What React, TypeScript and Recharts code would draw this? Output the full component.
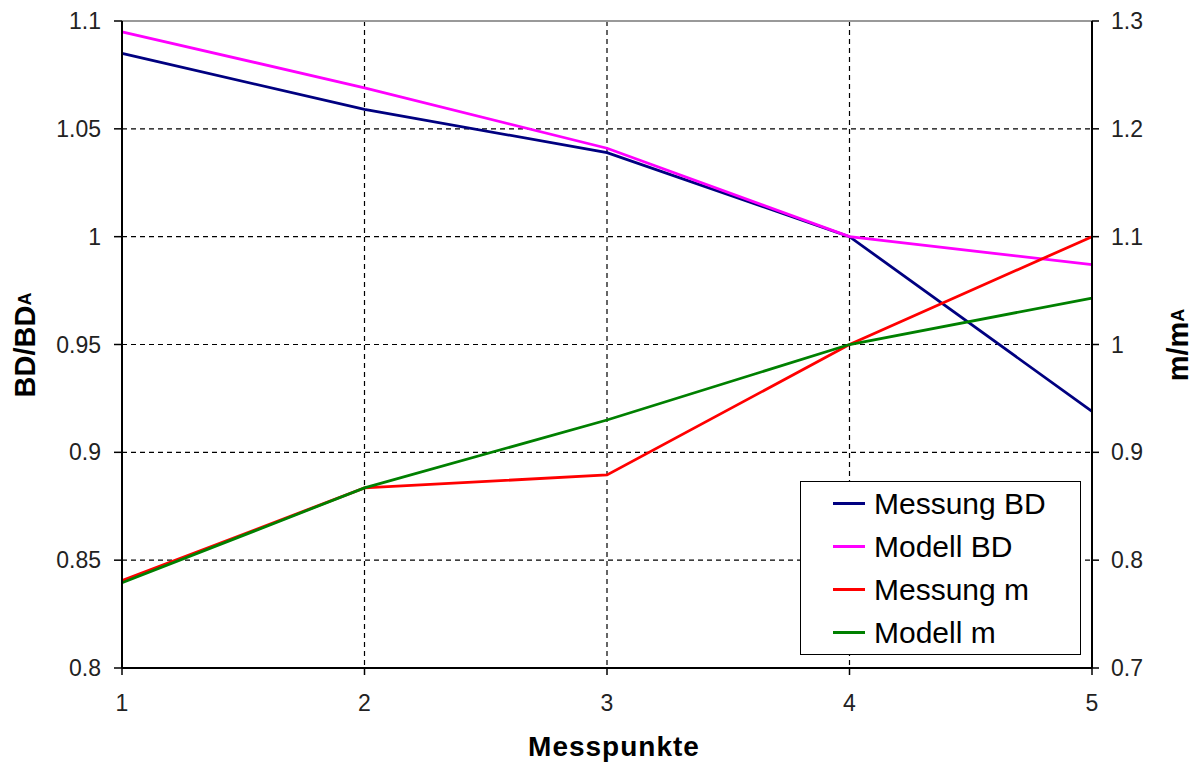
import { LineChart, Line, XAxis, YAxis, CartesianGrid, Legend, ReferenceLine } from 'recharts';

const messpunkte = [1, 2, 3, 4, 5];
const messungBD = [1.085, 1.059, 1.039, 1.0, 0.919];
const modellBD = [1.095, 1.069, 1.041, 1.0, 0.987];
const messungM = [0.781, 0.867, 0.879, 1.0, 1.1];
const modellM = [0.779, 0.867, 0.93, 1.0, 1.043];

const leftTicks = [0.8, 0.85, 0.9, 0.95, 1, 1.05, 1.1];
const rightTicks = [0.7, 0.8, 0.9, 1, 1.1, 1.2, 1.3];

const series = [
  { key: 'messungBD', name: 'Messung BD', color: '#000080', axis: 'left' },
  { key: 'modellBD', name: 'Modell BD', color: '#FF00FF', axis: 'left' },
  { key: 'messungM', name: 'Messung m', color: '#FF0000', axis: 'right' },
  { key: 'modellM', name: 'Modell m', color: '#008000', axis: 'right' },
];

const data = messpunkte.map((x, i) => ({
  x,
  messungBD: messungBD[i],
  modellBD: modellBD[i],
  messungM: messungM[i],
  modellM: modellM[i],
}));

const FONT = '"Liberation Sans", Arial, sans-serif';
const tickStyle = { fontSize: 23, fill: '#222', fontFamily: FONT };

// rotated axis title with a small "A" index
const AxisTitle = (x: number, y: number, main: string, sub: string) => (
  <text
    x={x}
    y={y}
    transform={`rotate(-90 ${x} ${y})`}
    textAnchor="middle"
    dominantBaseline="central"
    fontFamily={FONT}
    fontWeight="bold"
    fontSize={29}
    fill="#000"
  >
    {main}
    <tspan fontSize={18}>{sub}</tspan>
  </text>
);

const renderLegend = () => (
  <div
    style={{
      width: 279,
      height: 172,
      border: '1.5px solid #000',
      background: '#fff',
      fontFamily: FONT,
      fontSize: 30,
      color: '#000',
    }}
  >
    {series.map((s) => (
      <div key={s.key} style={{ display: 'flex', alignItems: 'center', height: 43 }}>
        <div style={{ width: 32, height: 3, background: s.color, marginLeft: 32, marginRight: 9 }} />
        <span style={{ lineHeight: '43px' }}>{s.name}</span>
      </div>
    ))}
  </div>
);

export default function App() {
  return (
    <div style={{ position: 'absolute', left: 0, top: 0, background: '#fff' }}>
      <LineChart width={1199} height={763} data={data} margin={{ top: 21, right: 0, left: 0, bottom: 0 }}>
        <CartesianGrid yAxisId="left" stroke="#000" strokeWidth={1.2} strokeDasharray="5 4" />
        <XAxis
          dataKey="x"
          type="number"
          domain={[1, 5]}
          ticks={messpunkte}
          height={95}
          tick={tickStyle}
          tickSize={7}
          tickMargin={20}
          axisLine={{ stroke: '#000', strokeWidth: 2 }}
          tickLine={{ stroke: '#000', strokeWidth: 1.5 }}
          label={{
            content: () => (
              <text
                x={614}
                y={746}
                textAnchor="middle"
                dominantBaseline="central"
                fontFamily={FONT}
                fontWeight="bold"
                fontSize={28}
                letterSpacing={1}
                fill="#000"
              >
                Messpunkte
              </text>
            ),
          }}
        />
        <YAxis
          yAxisId="left"
          orientation="left"
          domain={[0.8, 1.1]}
          ticks={leftTicks}
          width={122}
          tick={tickStyle}
          tickSize={8}
          tickMargin={13}
          axisLine={{ stroke: '#000', strokeWidth: 2 }}
          tickLine={{ stroke: '#000', strokeWidth: 1.5 }}
          label={{ content: () => AxisTitle(25, 345, 'BD/BD', 'A') }}
        />
        <YAxis
          yAxisId="right"
          orientation="right"
          domain={[0.7, 1.3]}
          ticks={rightTicks}
          width={107}
          tick={tickStyle}
          tickSize={7}
          tickMargin={12}
          axisLine={{ stroke: '#000', strokeWidth: 2 }}
          tickLine={{ stroke: '#000', strokeWidth: 1.5 }}
          label={{ content: () => AxisTitle(1178, 345, 'm/m', 'A') }}
        />
        <ReferenceLine yAxisId="left" y={1.1} stroke="#999" strokeWidth={2} />
        {series.map((s) => (
          <Line
            key={s.key}
            yAxisId={s.axis}
            type="linear"
            dataKey={s.key}
            name={s.name}
            stroke={s.color}
            strokeWidth={2.8}
            dot={false}
            isAnimationActive={false}
          />
        ))}
        <Legend
          layout="horizontal"
          verticalAlign="middle"
          align="center"
          content={renderLegend}
          wrapperStyle={{ left: 800, top: 481, width: 281, height: 174 }}
        />
      </LineChart>
    </div>
  );
}
